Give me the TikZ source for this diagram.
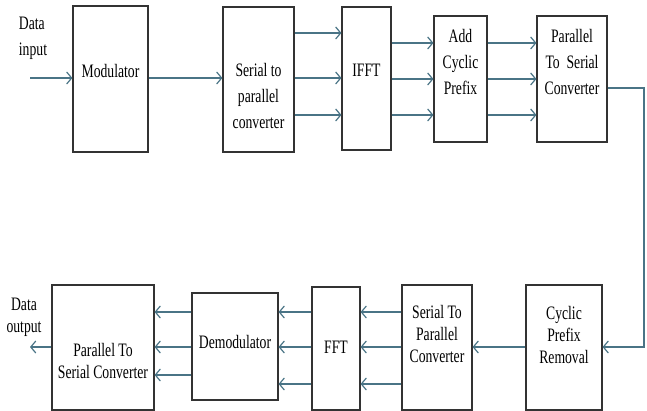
\documentclass[tikz,border=0pt]{standalone}
\usepackage{fontspec}
\setmainfont[FakeStretch=0.72]{Liberation Serif}
\usepackage{tikz}
\usetikzlibrary{arrows.meta}
\definecolor{sigteal}{HTML}{4A7486}
\tikzset{
  blk/.style={draw=black!80,line width=1.1pt,fill=white,inner sep=0pt},
  blktxt/.style={align=center,inner sep=0pt,font=\fontsize{19}{26}\selectfont},
  blktxtb/.style={blktxt,font=\fontsize{19}{22}\selectfont},
  sig/.style={-{Straight Barb[length=5pt,width=12pt]},line width=1.2pt,sigteal},
}

\begin{document}
\begin{tikzpicture}[x=1pt,y=-1pt]
  \useasboundingbox (0,0) rectangle (647,411);
  % transmitter
  \node[blk,minimum width=75pt,minimum height=146pt] (nMod) at (110.5,79) {};
  \node[blk,minimum width=71pt,minimum height=145pt] (nSP) at (258.5,79.5) {};
  \node[blk,minimum width=49pt,minimum height=143pt] (nIFFT) at (366.5,78.5) {};
  \node[blk,minimum width=53pt,minimum height=126pt] (nAdd) at (460.5,79) {};
  \node[blk,minimum width=70pt,minimum height=126pt] (nPS) at (572,79) {};
  \node[blktxt] (tMod) at ([yshift=8pt]nMod.center) {Modulator};
  \node[blktxt] (tSP) at ([yshift=-16.5pt]nSP.center) {Serial to\\parallel\\converter};
  \node[blktxt] (tIFFT) at ([yshift=8.5pt]nIFFT.center) {IFFT};
  \node[blktxt] (tAdd) at ([yshift=17pt]nAdd.center) {Add\\Cyclic\\Prefix};
  \node[blktxt] (tPS) at ([yshift=17pt]nPS.center) {Parallel\\To~~Serial\\Converter};
  \node[blktxt,align=left] (tIn) at (33,38) {Data\\input};
  % receiver
  \node[blk,minimum width=76pt,minimum height=125pt] (nCPR) at (564,347.5) {};
  \node[blk,minimum width=70pt,minimum height=125pt] (nSPb) at (437,347.5) {};
  \node[blk,minimum width=48pt,minimum height=123pt] (nFFT) at (336,348.5) {};
  \node[blk,minimum width=86pt,minimum height=107pt] (nDem) at (235,346.5) {};
  \node[blk,minimum width=102pt,minimum height=125pt] (nPSb) at (103,347.5) {};
  \node[blktxtb] (tCPR) at ([yshift=12.5pt]nCPR.center) {Cyclic\\Prefix\\Removal};
  \node[blktxtb] (tSPb) at ([yshift=13.5pt]nSPb.center) {Serial To\\Parallel\\Converter};
  \node[blktxtb] (tFFT) at ([yshift=1.5pt]nFFT.center) {FFT};
  \node[blktxtb] (tDem) at ([yshift=4.5pt]nDem.center) {Demodulator};
  \node[blktxtb] (tPSb) at ([yshift=-13.5pt]nPSb.center) {Parallel To\\Serial Converter};
  \node[blktxtb] (tOut) at (24,317) {Data\\output};
  \coordinate (cIn) at (30,78);
  \coordinate (cTurn) at (644,347);
  \coordinate (cOut) at (30,347);
  % links
  \draw[sig] (cIn) -- (nMod.west |- cIn);
  \draw[sig] (nMod.east |- 0,78) -- (nSP.west |- 0,78);
  \foreach \yy in {33,78,115}
    \draw[sig] (nSP.east |- 0,\yy) -- (nIFFT.west |- 0,\yy);
  \foreach \yy in {43,79,115} {
    \draw[sig] (nIFFT.east |- 0,\yy) -- (nAdd.west |- 0,\yy);
    \draw[sig] (nAdd.east |- 0,\yy) -- (nPS.west |- 0,\yy);
  }
  \draw[sig] (nPS.east |- 0,88) -| (cTurn) -- (nCPR.east |- cTurn);
  \draw[sig] (nCPR.west |- cTurn) -- (nSPb.east |- cTurn);
  \foreach \yy in {312,347,384} {
    \draw[sig] (nSPb.west |- 0,\yy) -- (nFFT.east |- 0,\yy);
    \draw[sig] (nFFT.west |- 0,\yy) -- (nDem.east |- 0,\yy);
  }
  \foreach \yy in {312,347,375}
    \draw[sig] (nDem.west |- 0,\yy) -- (nPSb.east |- 0,\yy);
  \draw[sig] (nPSb.west |- cOut) -- (cOut);
\end{tikzpicture}
\end{document}
